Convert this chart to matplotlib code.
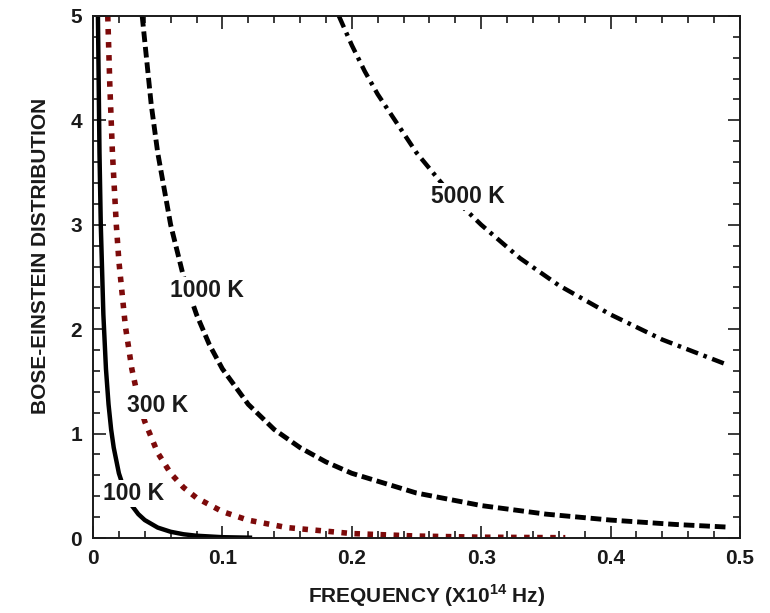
import matplotlib
matplotlib.use('Agg')
import matplotlib.pyplot as plt
from matplotlib.ticker import MultipleLocator

plt.rcParams['font.family'] = ['Liberation Sans', 'DejaVu Sans']
plt.rcParams['font.weight'] = 'bold'
plt.rcParams['mathtext.fontset'] = 'custom'
plt.rcParams['mathtext.rm'] = 'Liberation Sans:bold'
plt.rcParams['mathtext.bf'] = 'Liberation Sans:bold'

# ---- data (frequency in 1e14 Hz, occupancy) ----
x_100 = [0.0038, 0.005, 0.006, 0.008, 0.010, 0.012, 0.014, 0.016, 0.020, 0.025,
         0.030, 0.035, 0.040, 0.050, 0.060, 0.070, 0.080, 0.100, 0.123]
y_100 = [5.0, 3.69, 3.00, 2.14, 1.62, 1.28, 1.04, 0.866, 0.620, 0.431,
         0.311, 0.229, 0.172, 0.100, 0.060, 0.036, 0.022, 0.008, 0.003]

x_300 = [0.0114, 0.013, 0.015, 0.018, 0.020, 0.025, 0.030, 0.035, 0.040, 0.050,
         0.060, 0.070, 0.080, 0.100, 0.120, 0.150, 0.200, 0.250, 0.300, 0.365]
y_300 = [5.0, 4.33, 3.69, 3.00, 2.65, 2.03, 1.62, 1.33, 1.115, 0.816,
         0.620, 0.484, 0.385, 0.253, 0.171, 0.100, 0.043, 0.019, 0.008, 0.003]

x_1000 = [0.038, 0.045, 0.050, 0.060, 0.070, 0.080, 0.090, 0.100, 0.120, 0.140,
          0.160, 0.180, 0.200, 0.250, 0.300, 0.350, 0.400, 0.450, 0.490]
y_1000 = [5.0, 4.15, 3.69, 3.00, 2.50, 2.14, 1.85, 1.62, 1.28, 1.04,
          0.866, 0.729, 0.620, 0.431, 0.311, 0.229, 0.172, 0.130, 0.105]

x_5000 = [0.190, 0.200, 0.210, 0.220, 0.250, 0.280, 0.300, 0.330, 0.360, 0.400,
          0.440, 0.488]
y_5000 = [5.0, 4.72, 4.47, 4.25, 3.69, 3.24, 3.00, 2.68, 2.42, 2.14,
          1.90, 1.67]

labels = ['100 K', '300 K', '1000 K', '5000 K']
label_pos = [(0.031, 0.43), (0.050, 1.27), (0.088, 2.37), (0.290, 3.27)]

fig = plt.figure(figsize=(7.7, 6.13), dpi=100)
ax = fig.add_axes([0.1208, 0.1223, 0.8402, 0.8517])

ax.plot(x_100, y_100, color='black', lw=3.2, solid_capstyle='butt')
ax.plot(x_300, y_300, color='#7d0a0a', lw=4.0, linestyle=(0, (1.0, 1.35)))
ax.plot(x_1000, y_1000, color='black', lw=3.5, linestyle=(0, (2.2, 1.0)))
ax.plot(x_5000, y_5000, color='black', lw=3.2, linestyle=(0, (2.8, 1.3, 0.8, 1.3)))

for lab, (tx, ty) in zip(labels, label_pos):
    ax.text(tx, ty, lab, fontsize=16.5, fontweight='bold', color='#1a1a1a',
            ha='center', va='center', zorder=5,
            bbox=dict(facecolor='white', edgecolor='none', pad=1.5))

ax.set_xlim(0, 0.5)
ax.set_ylim(0, 5)
ax.xaxis.set_minor_locator(MultipleLocator(0.02))
ax.yaxis.set_major_locator(MultipleLocator(1))
ax.yaxis.set_minor_locator(MultipleLocator(0.2))
ax.set_xticks([0, 0.1, 0.2, 0.3, 0.4, 0.5])
ax.set_xticklabels(['0', '0.1', '0.2', '0.3', '0.4', '0.5'])

ax.tick_params(which='both', direction='in', top=True, right=True,
               width=1.2, colors='#1a1a1a', labelsize=15)
ax.tick_params(which='major', length=9, pad=8)
ax.tick_params(which='minor', length=5)
for sp in ax.spines.values():
    sp.set_linewidth(1.4)
    sp.set_color('#1a1a1a')

ax.set_xlabel(r'FREQUENCY (X10$^{14}$ Hz)', fontsize=15, fontweight='bold',
              color='#1a1a1a')
ax.set_ylabel('BOSE-EINSTEIN DISTRIBUTION', fontsize=15, fontweight='bold',
              color='#1a1a1a')
ax.xaxis.set_label_coords(0.515, -0.085)
ax.yaxis.set_label_coords(-0.066, 0.54)

fig.savefig('out.png', dpi=100)
